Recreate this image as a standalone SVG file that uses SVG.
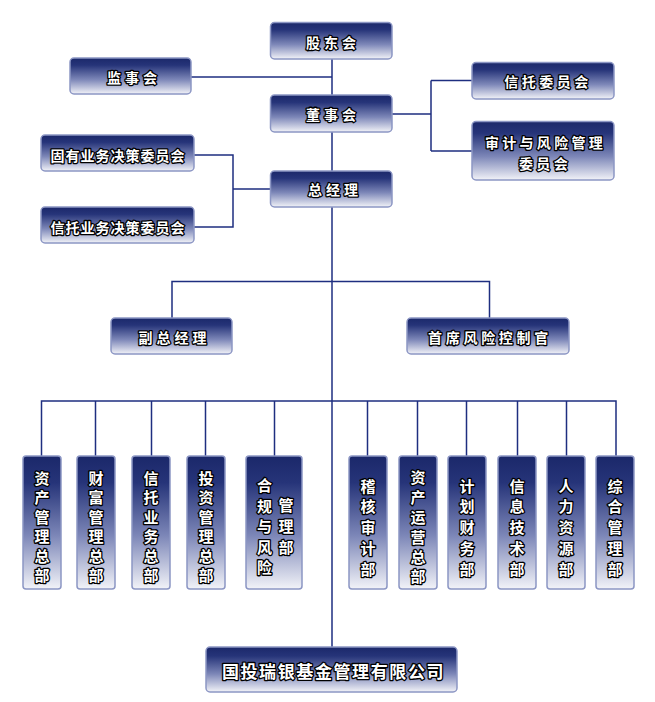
<svg xmlns="http://www.w3.org/2000/svg" width="655" height="702" viewBox="0 0 655 702">
<defs>
<linearGradient id="g" x1="0" y1="0" x2="0" y2="1">
<stop offset="0" stop-color="#1b286a"/>
<stop offset="0.2" stop-color="#263479"/>
<stop offset="0.6" stop-color="#7d87b8"/>
<stop offset="1" stop-color="#f2f3f8"/>
</linearGradient>
<style>
.b{fill:url(#g);stroke:#8c96c4;stroke-width:1.5}
.t{font-family:"Noto Sans CJK SC","Noto Sans CJK JP",sans-serif;font-weight:bold;font-size:14px;fill:#fff;stroke:#000;stroke-width:2.6;stroke-linejoin:round;paint-order:stroke;text-anchor:middle;dominant-baseline:central}
.v{font-size:15px}
.big{font-size:17px}
.c{fill:none;stroke:#1e2e80;stroke-width:1.5}
</style>
</defs>
<rect width="655" height="702" fill="#fff"/>
<g id="connectors" class="c">
<path d="M332 59V647"/>
<path d="M191 77H332"/>
<path d="M392 114H431M431 80.5V151M431 80.5H472M431 151H472"/>
<path d="M194 155H233V227H194M233 189H271"/>
<path d="M172 318V281.5H489.5V318"/>
<path d="M41.5 456V401H616V456M95.5 401V456M151.5 401V456M205.5 401V456M274.5 401V456M367.5 401V456M417.5 401V456M466.5 401V456M517.5 401V456M566.5 401V456"/>
</g>
<g id="n1"><rect class="b" x="270.5" y="22.5" width="121.5" height="36.5" rx="4"/><text class="t" x="333" y="41.5" letter-spacing="4">股东会</text></g>
<g id="n2"><rect class="b" x="70" y="58" width="121" height="36" rx="4"/><text class="t" x="134" y="77" letter-spacing="4">监事会</text></g>
<g id="n3"><rect class="b" x="270.5" y="95" width="121.5" height="37" rx="4"/><text class="t" x="333" y="114" letter-spacing="4">董事会</text></g>
<g id="n4"><rect class="b" x="472" y="62.5" width="142" height="36.5" rx="4"/><text class="t" x="548" y="81" letter-spacing="3.5">信托委员会</text></g>
<g id="n5"><rect class="b" x="472" y="121.5" width="142" height="58.5" rx="4"/><text class="t" x="545.5" y="141.5" letter-spacing="3.3">审计与风险管理</text><text class="t" x="545" y="162.5" letter-spacing="3.3">委员会</text></g>
<g id="n6"><rect class="b" x="41" y="135" width="153" height="36" rx="4"/><text class="t" x="118" y="154.5" letter-spacing="1">固有业务决策委员会</text></g>
<g id="n7"><rect class="b" x="41" y="207" width="153" height="36" rx="4"/><text class="t" x="118" y="226.5" letter-spacing="1">信托业务决策委员会</text></g>
<g id="n8"><rect class="b" x="270.5" y="171" width="121.5" height="36" rx="4"/><text class="t" x="335" y="189" letter-spacing="4">总经理</text></g>
<g id="n9"><rect class="b" x="111" y="318" width="121" height="36" rx="4"/><text class="t" x="174.5" y="336.5" letter-spacing="4">副总经理</text></g>
<g id="n10"><rect class="b" x="407" y="318" width="162" height="36" rx="4"/><text class="t" x="490" y="336.5" letter-spacing="3.7">首席风险控制官</text></g>
<g id="n11"><rect class="b" x="206" y="647" width="251" height="45" rx="4"/><text class="t big" x="333.5" y="670" letter-spacing="1.6">国投瑞银基金管理有限公司</text></g>
<g id="d1"><rect class="b" x="23" y="456" width="38" height="133" rx="3"/><text class="t v" x="42"><tspan x="42" y="476.5">资</tspan><tspan x="42" y="496">产</tspan><tspan x="42" y="515.5">管</tspan><tspan x="42" y="535">理</tspan><tspan x="42" y="554.5">总</tspan><tspan x="42" y="574">部</tspan></text></g>
<g id="d2"><rect class="b" x="77" y="456" width="38" height="133" rx="3"/><text class="t v"><tspan x="96" y="476.5">财</tspan><tspan x="96" y="496">富</tspan><tspan x="96" y="515.5">管</tspan><tspan x="96" y="535">理</tspan><tspan x="96" y="554.5">总</tspan><tspan x="96" y="574">部</tspan></text></g>
<g id="d3"><rect class="b" x="132" y="456" width="38" height="133" rx="3"/><text class="t v"><tspan x="151" y="476.5">信</tspan><tspan x="151" y="496">托</tspan><tspan x="151" y="515.5">业</tspan><tspan x="151" y="535">务</tspan><tspan x="151" y="554.5">总</tspan><tspan x="151" y="574">部</tspan></text></g>
<g id="d4"><rect class="b" x="187" y="456" width="38" height="133" rx="3"/><text class="t v"><tspan x="206" y="476.5">投</tspan><tspan x="206" y="496">资</tspan><tspan x="206" y="515.5">管</tspan><tspan x="206" y="535">理</tspan><tspan x="206" y="554.5">总</tspan><tspan x="206" y="574">部</tspan></text></g>
<g id="d5"><rect class="b" x="246" y="456" width="56" height="133" rx="3"/><text class="t v"><tspan x="264.5" y="484">合</tspan><tspan x="264.5" y="504.5">规</tspan><tspan x="264.5" y="525">与</tspan><tspan x="264.5" y="545.5">风</tspan><tspan x="264.5" y="566">险</tspan></text><text class="t v"><tspan x="286" y="503.5">管</tspan><tspan x="286" y="524.5">理</tspan><tspan x="286" y="545.5">部</tspan></text></g>
<g id="d6"><rect class="b" x="349" y="456" width="38" height="133" rx="3"/><text class="t v"><tspan x="368" y="484.5">稽</tspan><tspan x="368" y="505">核</tspan><tspan x="368" y="526">审</tspan><tspan x="368" y="547">计</tspan><tspan x="368" y="568">部</tspan></text></g>
<g id="d7"><rect class="b" x="399" y="456" width="38" height="133" rx="3"/><text class="t v"><tspan x="418" y="475.5">资</tspan><tspan x="418" y="495.5">产</tspan><tspan x="418" y="516">运</tspan><tspan x="418" y="536">营</tspan><tspan x="418" y="555.5">总</tspan><tspan x="418" y="574.5">部</tspan></text></g>
<g id="d8"><rect class="b" x="448" y="456" width="38" height="133" rx="3"/><text class="t v"><tspan x="467" y="484.5">计</tspan><tspan x="467" y="505">划</tspan><tspan x="467" y="526">财</tspan><tspan x="467" y="547">务</tspan><tspan x="467" y="568">部</tspan></text></g>
<g id="d9"><rect class="b" x="498" y="456" width="38" height="133" rx="3"/><text class="t v"><tspan x="517" y="484.5">信</tspan><tspan x="517" y="505">息</tspan><tspan x="517" y="526">技</tspan><tspan x="517" y="547">术</tspan><tspan x="517" y="568">部</tspan></text></g>
<g id="d10"><rect class="b" x="547" y="456" width="38" height="133" rx="3"/><text class="t v"><tspan x="566" y="484.5">人</tspan><tspan x="566" y="505">力</tspan><tspan x="566" y="526">资</tspan><tspan x="566" y="547">源</tspan><tspan x="566" y="568">部</tspan></text></g>
<g id="d11"><rect class="b" x="596" y="456" width="38" height="133" rx="3"/><text class="t v"><tspan x="615" y="484.5">综</tspan><tspan x="615" y="505">合</tspan><tspan x="615" y="526">管</tspan><tspan x="615" y="547">理</tspan><tspan x="615" y="568">部</tspan></text></g>
</svg>
